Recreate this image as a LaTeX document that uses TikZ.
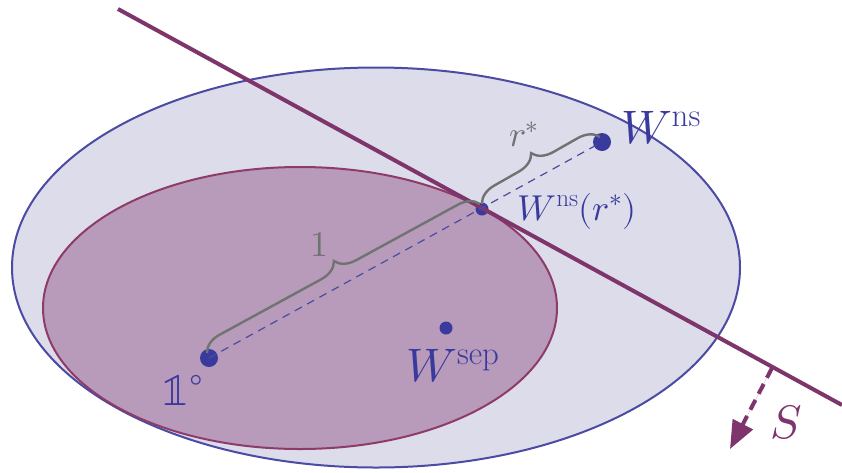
\documentclass[tikz,border=0pt]{standalone}
\usepackage{unicode-math}
\setmathfont{Latin Modern Math}
\usetikzlibrary{decorations.pathreplacing,arrows.meta}
\definecolor{outerfill}{HTML}{DCDCEA}
\definecolor{outerline}{HTML}{4B4BA3}
\definecolor{innerfill}{HTML}{B89BBA}
\definecolor{innerline}{HTML}{8E3B69}
\definecolor{slinec}{HTML}{7D356C}
\definecolor{dotblue}{HTML}{3A3A9E}
\definecolor{bracegray}{HTML}{6F7371}
\tikzset{
  bigdot/.style={circle,fill=dotblue,inner sep=0pt,minimum size=18pt},
  smalldot/.style={circle,fill=dotblue,inner sep=0pt,minimum size=13pt},
  biglabel/.style={text=dotblue,font=\fontsize{47}{50}\selectfont,inner sep=0pt},
  midlabel/.style={text=dotblue,font=\fontsize{36}{40}\selectfont,inner sep=0pt},
  graylabel/.style={text=bracegray,font=\fontsize{36}{40}\selectfont,inner sep=0pt},
  bracestyle/.style={draw=bracegray,line width=2.4pt,decorate,decoration={brace,amplitude=20pt}},
  dashline/.style={draw=outerline,line width=1.2pt,dash pattern=on 8pt off 6pt},
  sepline/.style={draw=slinec,line width=4pt},
  sarrow/.style={draw=slinec,fill=slinec,line width=4pt,dash pattern=on 11pt off 7pt,-{Triangle[length=28pt,width=22pt]}}
}
\begin{document}
\begin{tikzpicture}[x=1pt,y=-1pt]
\useasboundingbox (0,0) rectangle (842,472);
% ellipses
\draw[fill=outerfill,draw=outerline,line width=2pt] (376,267.5) ellipse [x radius=364, y radius=200];
\draw[fill=innerfill,draw=innerline,line width=2pt] (300,308) ellipse [x radius=257, y radius=141];
% points
\coordinate (L1) at (118,9);
\coordinate (L2) at (842,405);
\coordinate (A1) at (772,368);
\coordinate (A2) at (730,449);
\node[bigdot] (one) at (209,358) {};
\node[bigdot] (wns) at (602,142) {};
\node[smalldot] (wnsr) at (482,209) {};
\node[smalldot] (wsep) at (446,328) {};
% separating line
\draw[sepline] (L1) -- (L2);
\draw[sarrow] (A1) -- (A2);
% dashed segment
\draw[dashline] (one.center) -- (wns.center);
% braces
\coordinate (b1) at (207,353);
\coordinate (b2) at (480,204);
\coordinate (b3) at (482,204);
\coordinate (b4) at (600,137);
\draw[bracestyle] (b1) -- (b2);
\draw[bracestyle] (b3) -- (b4);
% labels
\node[graylabel] (lone) at (319,245) {$1$};
\node[graylabel] (lr) at (524,134) {$r^*$};
\node[biglabel] (twns) at (661,128) {$W^{\mathrm{ns}}$};
\node[midlabel] (twnsr) at (577,211) {$W^{\mathrm{ns}}(r^*)$};
\node[biglabel] (twsep) at (453,366) {$W^{\mathrm{sep}}$};
\node[biglabel] (tone) at (183,390) {$\symbb{1}^{\circ}$};
\node[biglabel,text=slinec] (ts) at (786,422) {$S$};
\end{tikzpicture}
\end{document}
